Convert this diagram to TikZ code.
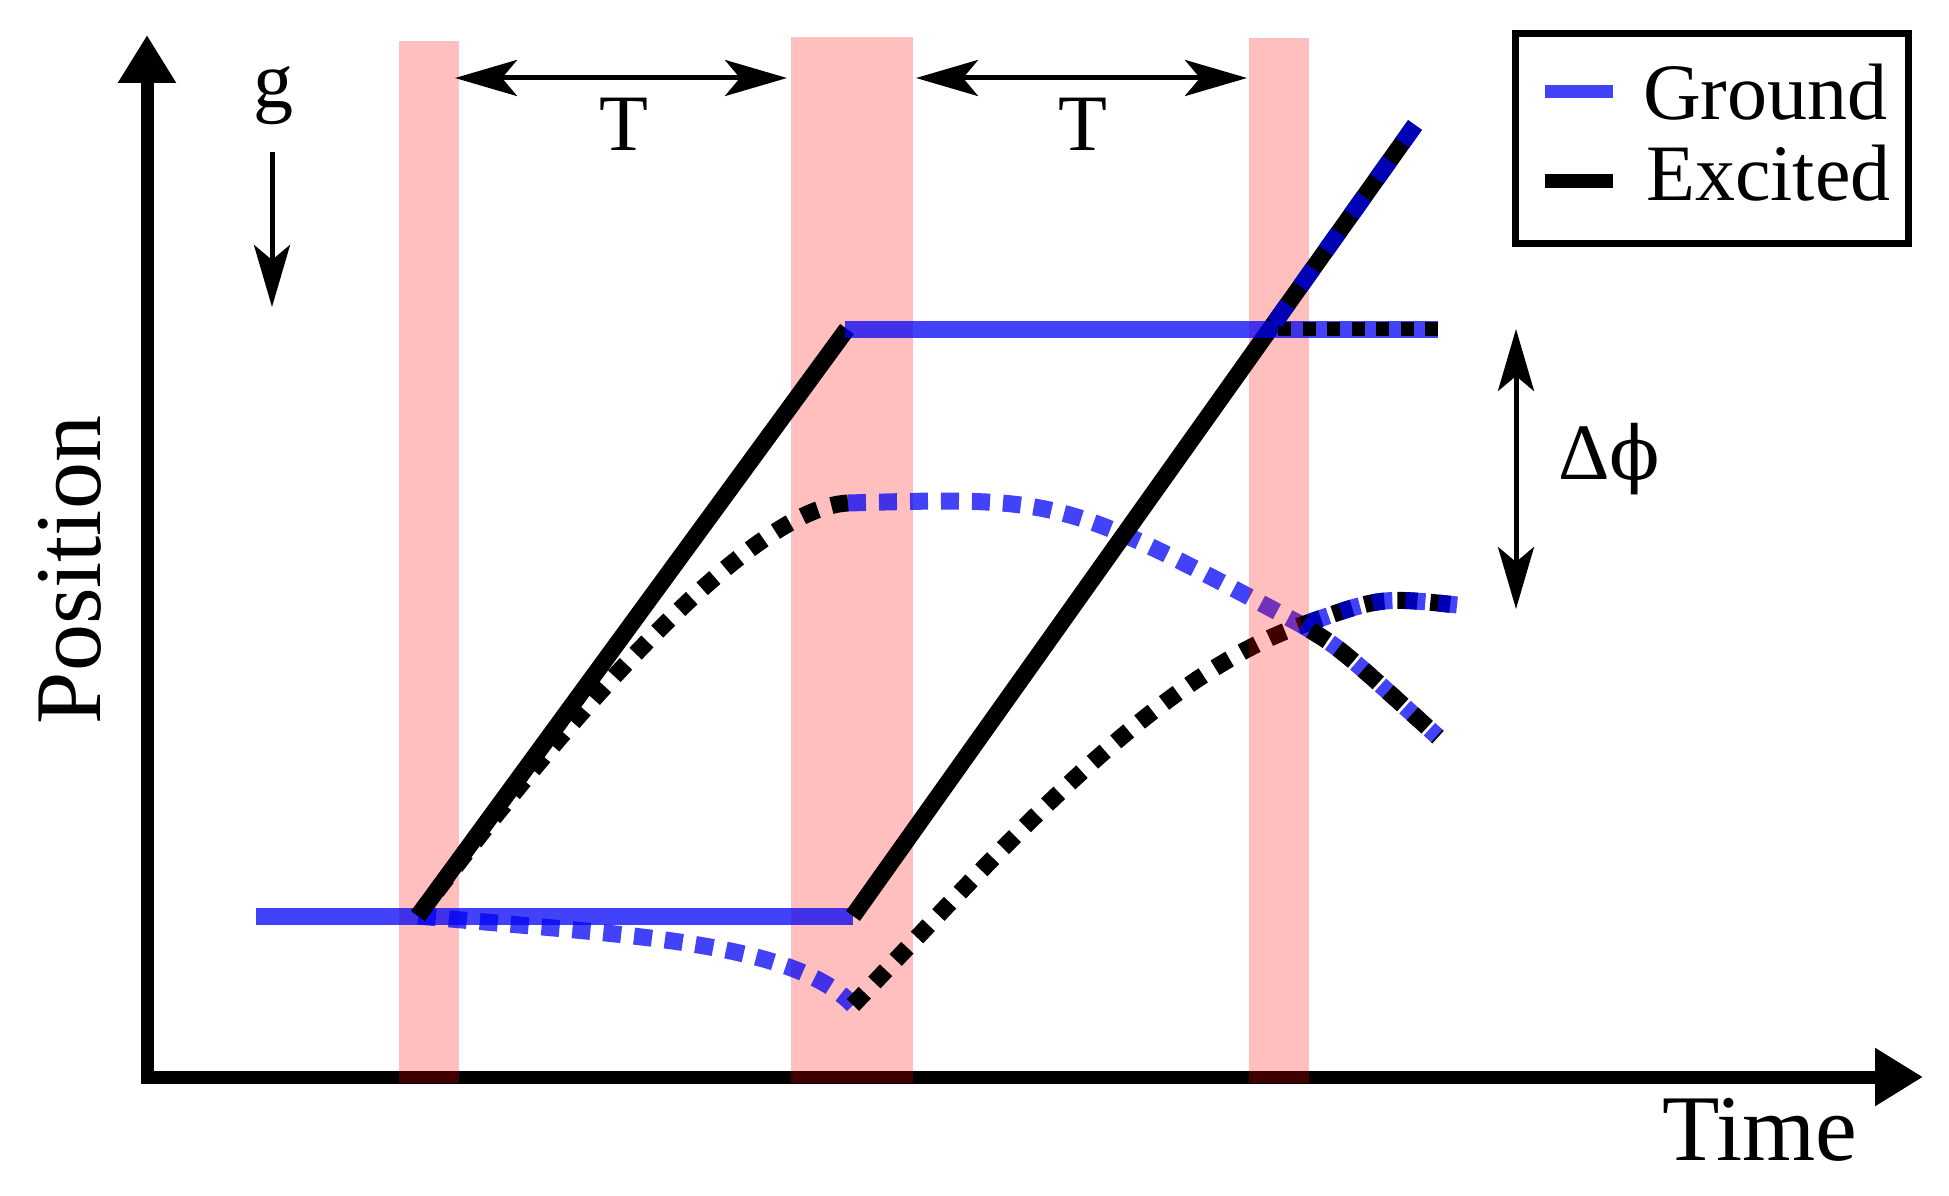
\documentclass[tikz,border=0pt]{standalone}
\usepackage{fontspec}
\setmainfont{Liberation Serif}
\newfontfamily\phifont{DejaVu Serif}
\usetikzlibrary{arrows.meta}
\definecolor{gblue}{RGB}{0,0,245}
\begin{document}
\begin{tikzpicture}[x=1pt,y=-1pt,
  band/.style={fill=red, fill opacity=0.25, draw=none},
  gline/.style={draw=gblue, draw opacity=0.74, line width=17pt},
  eline/.style={draw=black, line width=17pt},
  edots/.style={draw=black, line width=17pt, dash pattern=on 17pt off 14pt},
  gdots/.style={draw=gblue, draw opacity=0.74, line width=17pt, dash pattern=on 18pt off 13pt},
  emix/.style={draw=black, line width=17pt, dash pattern=on 20pt off 13pt},
  gmix/.style={draw=gblue, draw opacity=0.74, line width=17pt, dash pattern=on 20pt off 13pt},
  thinarrow/.style={line width=5pt, {Stealth[length=62pt,width=36pt,inset=15pt]}-{Stealth[length=62pt,width=36pt,inset=15pt]}},
  downarrow/.style={line width=5pt, -{Stealth[length=62pt,width=36pt,inset=15pt]}},
  lab/.style={inner sep=0pt, font=\fontsize{80}{96}\selectfont},
  biglab/.style={inner sep=0pt, font=\fontsize{94}{112}\selectfont},
]
\useasboundingbox (0,0) rectangle (1949,1196);

% key points
\coordinate (ytip) at (147,35);
\coordinate (orig) at (147,1077);
\coordinate (xtip) at (1923,1077);
\coordinate (A) at (418,916);      % first pulse split point
\coordinate (G0) at (256,916);     % ground line start
\coordinate (Gm) at (853,916);     % ground line end / lower arm start
\coordinate (Uu) at (847,329);     % upper arm top
\coordinate (Us) at (845,329);     % upper ground line start
\coordinate (Ue) at (1438,329);    % upper ground line end
\coordinate (Cx) at (1270,329);    % crossing of straight lines
\coordinate (Dt) at (1415,125);    % diagonal top end
\coordinate (Dk) at (1278,329);    % start of black dots on upper line
\coordinate (U) at (848,503);      % upper parabola at 2nd pulse
\coordinate (V) at (853,1005);     % lower parabola at 2nd pulse
\coordinate (X) at (1302,625);     % parabola crossing
\coordinate (L3e) at (1457,605);
\coordinate (U3e) at (1438,737);

% axes
\draw[line width=13pt, line join=miter,
  {Triangle[length=48pt,width=55pt]}-{Triangle[length=48pt,width=55pt]}]
  (ytip) -- (orig) -- (xtip);

% first two pulses
\fill[band] (399,41) rectangle (459,1083);
\fill[band] (791,37) rectangle (913,1083);

% gravity trajectories
\draw[gdots] (A) .. controls (620,935) and (790,940) .. (V);
\draw[edots] (A) .. controls (560,726) and (748,508) .. (U);
\draw[gdots] (U) .. controls (1062,497) .. (X);
\draw[edots] (V) .. controls (1003,848) and (1152,677.5) .. (X);

% third pulse
\fill[band] (1249,38) rectangle (1309,1083);

% mixed outputs (gravity)
\draw[emix] (X) .. controls (1381,597) .. (L3e);
\draw[gmix, dash phase=25pt] (X) .. controls (1381,597) .. (L3e);
\draw[gmix] (X) .. controls (1340,648) .. (U3e);
\draw[emix, dash phase=23pt] (X) .. controls (1340,648) .. (U3e);

% straight trajectories
\draw[gline] (G0) -- (Gm);
\draw[eline] (A) -- (Uu);
\draw[eline] (Gm) -- (Dt);
\draw[gline] (Us) -- (Ue);
\draw[draw=black, line width=14pt, dash pattern=on 13pt off 11.5pt] (Dk) -- (Ue);
\draw[gline, dash pattern=on 22pt off 22pt] (Dt) -- (Cx);

% gravity arrow
\node[lab, anchor=base] (g) at (273,108) {g};
\coordinate (g0) at (272,152);
\coordinate (g1) at (272,307);
\draw[downarrow] (g0) -- (g1);

% T arrows
\coordinate (t1a) at (455,78);
\coordinate (t1b) at (787,78);
\coordinate (t2a) at (916,78);
\coordinate (t2b) at (1247,78);
\draw[thinarrow] (t1a) -- (t1b);
\draw[thinarrow] (t2a) -- (t2b);
\node[lab, anchor=base] (T1) at (624,150) {T};
\node[lab, anchor=base] (T2) at (1083,150) {T};

% phase arrow
\coordinate (p0) at (1516,329);
\coordinate (p1) at (1516,609);
\draw[thinarrow] (p0) -- (p1);
\node[lab, anchor=base west] (dphi) at (1558,479) {Δ{\phifont\fontsize{74}{90}\selectfont ϕ}};

% axis labels
\node[biglab, anchor=base] (time) at (1760,1160) {Time};
\node[biglab, rotate=90, anchor=base] (pos) at (100,570) {Position};

% legend
\draw[line width=7pt] (1515.5,33.5) rectangle (1908.5,243.5);
\coordinate (lg0) at (1545,91.5);
\coordinate (lg1) at (1613,91.5);
\coordinate (le0) at (1545,181);
\coordinate (le1) at (1613,181);
\draw[gline, line width=13pt] (lg0) -- (lg1);
\draw[line width=14pt] (le0) -- (le1);
\node[lab, anchor=base west] (lgt) at (1643,120) {Ground};
\node[lab, anchor=base west] (let) at (1646,200) {Excited};
\end{tikzpicture}
\end{document}
